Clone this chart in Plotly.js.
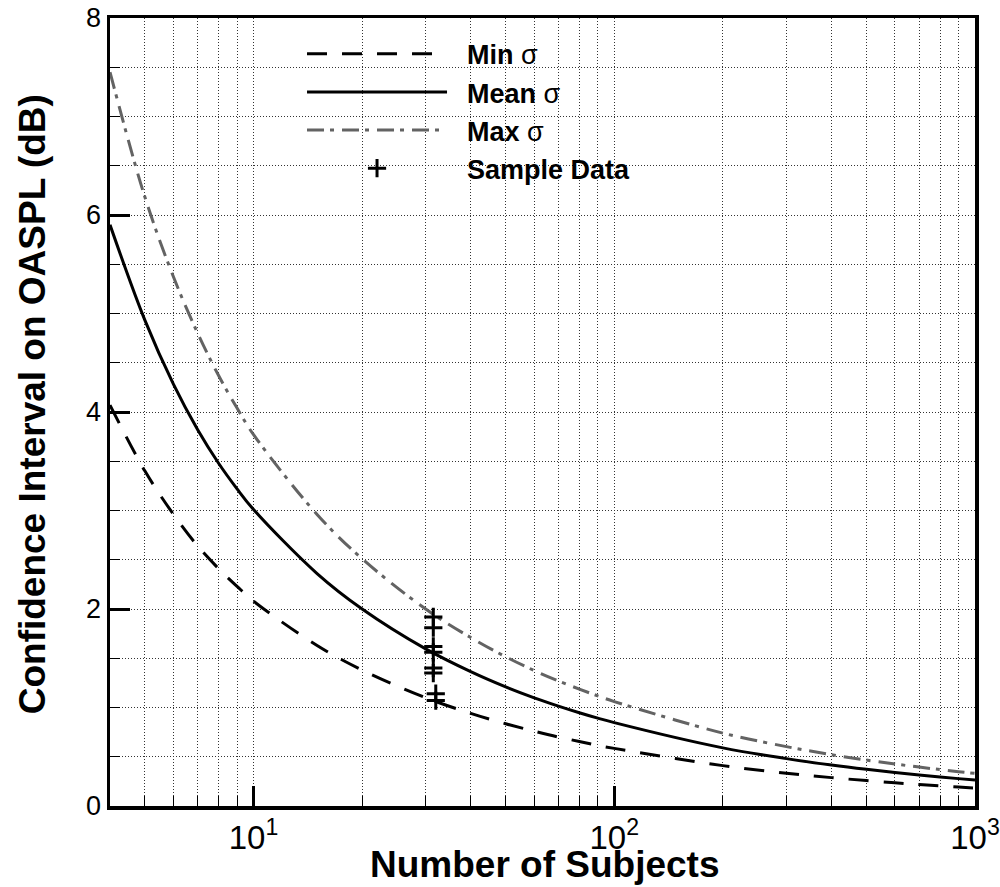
<!DOCTYPE html>
<html>
<head>
<meta charset="utf-8">
<script src="https://cdn.plot.ly/plotly-3.0.1.min.js"></script>
<style>html,body{margin:0;padding:0;background:#fff;}</style>
</head>
<body>
<div id="chart" style="width:1000px;height:887px;"></div>
<script>
// Number of subjects (x)
const subjects = [4,5,6,7,8,9,10,15,20,30,40,50,60,70,80,90,100,200,300,400,500,600,700,800,900,1000];
// Confidence interval on OASPL (dB)
const minSigma  = [4.07,3.40,2.96,2.64,2.41,2.23,2.08,1.63,1.38,1.10,0.94,0.835,0.76,0.70,0.655,0.615,0.585,0.41,0.333,0.288,0.258,0.236,0.218,0.204,0.192,0.182];
const meanSigma = [5.90,4.93,4.28,3.82,3.48,3.22,3.01,2.36,2.00,1.595,1.364,1.209,1.098,1.014,0.947,0.892,0.846,0.59,0.481,0.416,0.372,0.34,0.315,0.295,0.278,0.264];
const maxSigma  = [7.45,6.18,5.37,4.80,4.37,4.04,3.77,2.96,2.51,2.00,1.71,1.515,1.375,1.27,1.187,1.118,1.06,0.74,0.603,0.521,0.466,0.426,0.395,0.37,0.348,0.331];
// Sample data
const sampleX = [31.5,31.5,31.5,31.5,31.5,31.5,32,32];
const sampleY = [1.92,1.81,1.62,1.56,1.40,1.35,1.14,1.07];
// Axis ticks
const xMajorTicks = [10,100,1000];
const xMajorText = ['10<sup>1</sup>','10<sup>2</sup>','10<sup>3</sup>'];
const xMinorTicks = [5,6,7,8,9,20,30,40,50,60,70,80,90,200,300,400,500,600,700,800,900];
const yMajorTicks = [0,2,4,6,8];
const pad = '\u00a0\u00a0';

const traces = [
  {x: subjects, y: minSigma, mode:'lines', name: pad + '<b>Min</b> σ',
   line:{color:'#000', width:3, dash:'20px,15px', shape:'spline'}},
  {x: subjects, y: meanSigma, mode:'lines', name: pad + '<b>Mean</b> σ',
   line:{color:'#000', width:3, shape:'spline'}},
  {x: subjects, y: maxSigma, mode:'lines', name: pad + '<b>Max</b> σ',
   line:{color:'#636363', width:3, dash:'17px,6px,4px,8px', shape:'spline'}},
  {x: sampleX, y: sampleY, mode:'markers', name: pad + '<b>Sample Data</b>',
   marker:{symbol:'cross-thin', size:13, color:'#000', line:{color:'#000', width:3}}}
];

const gridCol = '#333';
const layout = {
  width:1000, height:887,
  margin:{l:110, r:25, t:18, b:81},
  paper_bgcolor:'#fff', plot_bgcolor:'#fff',
  font:{family:'"Liberation Sans", Arial, sans-serif', color:'#000'},
  showlegend:true,
  legend:{x:0.222, y:0.985, xanchor:'left', yanchor:'top', bgcolor:'rgba(0,0,0,0)',
          font:{size:27, color:'#000'}, itemwidth:140, tracegroupgap:0},
  xaxis:{type:'log', range:[Math.log10(4), 3], tickmode:'array', tickvals:xMajorTicks, ticktext:xMajorText,
         ticks:'inside', ticklen:20, tickwidth:3, tickcolor:'#000', ticklabeloverflow:'allow',
         showgrid:true, gridcolor:gridCol, gridwidth:1, griddash:'1px,2px',
         minor:{tickmode:'array', tickvals:xMinorTicks, ticks:'inside', ticklen:10, tickwidth:1, tickcolor:'#000',
                showgrid:true, gridcolor:gridCol, gridwidth:1, griddash:'1px,2px'},
         showline:true, mirror:true, linewidth:3.5, linecolor:'#000', zeroline:false,
         tickfont:{size:33}, automargin:false},
  yaxis:{range:[0,8], tickmode:'array', tickvals:yMajorTicks,
         ticks:'inside', ticklen:20, tickwidth:3, tickcolor:'#000',
         showgrid:true, gridcolor:gridCol, gridwidth:1, griddash:'1px,2px',
         minor:{dtick:0.5, tick0:0, ticks:'inside', ticklen:10, tickwidth:1, tickcolor:'#000',
                showgrid:true, gridcolor:gridCol, gridwidth:1, griddash:'1px,2px'},
         showline:true, mirror:true, linewidth:3.5, linecolor:'#000', zeroline:false,
         tickfont:{size:27}, automargin:false},
  annotations:[
    {text:'<b>Number of Subjects</b>', xref:'paper', yref:'paper', x:0.503, y:-0.074,
     xanchor:'center', yanchor:'middle', showarrow:false, font:{size:37, color:'#000'}},
    {text:'<b>Confidence Interval on OASPL (dB)</b>', xref:'paper', yref:'paper', x:-0.09, y:0.51,
     xanchor:'center', yanchor:'middle', textangle:-90, showarrow:false, font:{size:37, color:'#000'}}
  ]
};

Plotly.newPlot('chart', traces, layout, {displayModeBar:false, staticPlot:true});
</script>
</body>
</html>
